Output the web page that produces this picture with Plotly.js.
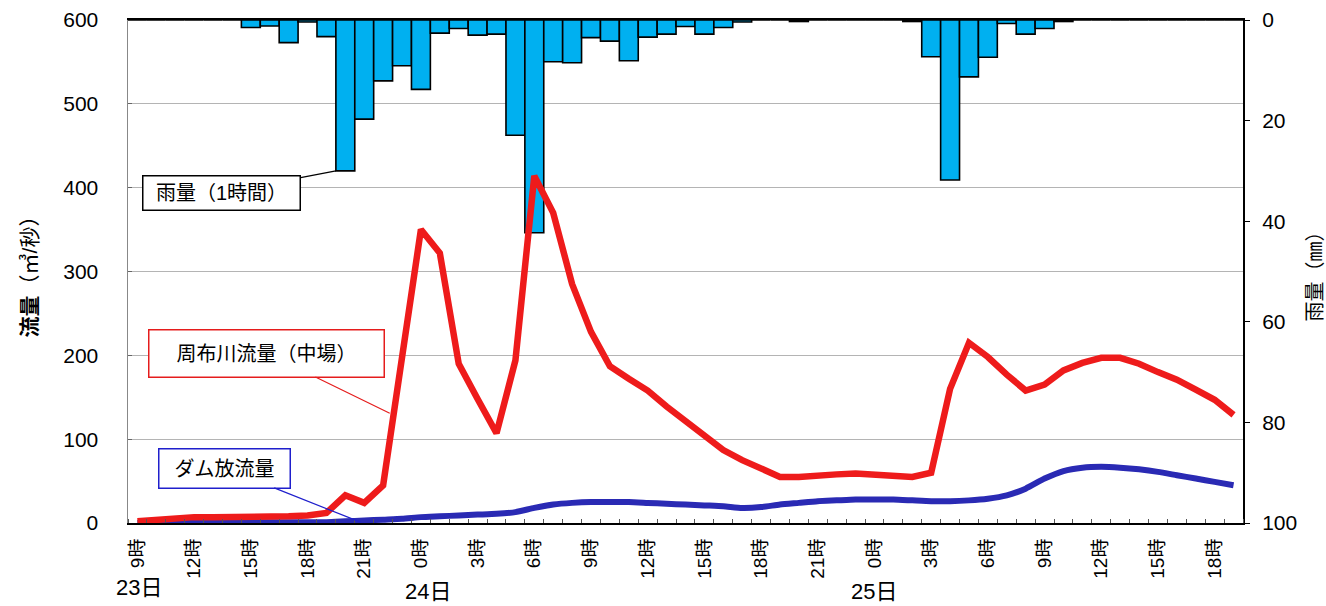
<!DOCTYPE html>
<html>
<head>
<meta charset="utf-8">
<script src="https://cdn.plot.ly/plotly-3.0.1.min.js"></script>
<style>html,body{margin:0;padding:0;background:#fff;}#chart{width:1326px;height:606px;}</style>
</head>
<body>
<div id="chart"></div>
<script>
// hourly series from 23日 9時 to 25日 19時 (59 hours)
const rainMm = [0,0,0,0,0,0,1.5,1.2,4.5,0.4,3.3,30,19.7,12.1,9.1,13.8,2.6,1.7,3.0,2.8,22.9,42.3,8.3,8.5,3.5,4.2,8.1,3.4,2.8,1.3,2.8,1.5,0.4,0,0,0.3,0,0,0,0,0,0.3,7.3,31.8,11.3,7.4,0.7,2.8,1.7,0.3,0,0,0,0,0,0,0,0,0];
const flowNakaba = [2,4,6,7,7,7,7,8,8,9,12,33,24,45,195,350,322,190,148,107,194,414,370,285,228,187,172,158,139,121,103,87,75,64,55,55,57,58,59,58,56,55,60,160,215,198,177,158,165,182,191,197,197,190,180,171,159,147,129];
const damRelease = [0,1,1,1,1,1,1,1,1,1,1,2,3,4,5,7,8,9,10,11,13,18,22,24,25,25,25,24,23,22,21,20,18,19,22,24,26,27,28,28,28,27,26,26,27,29,33,41,53,62,66,67,66,64,61,57,53,49,45];
const tickLabels = ["9時","12時","15時","18時","21時","0時","3時","6時","9時","12時","15時","18時","21時","0時","3時","6時","9時","12時","15時","18時"];
const dayLabels = ["23日","24日","25日"];

const idx = rainMm.map((_, i) => i);
const tickVals = tickLabels.map((_, i) => i * 3);
const FONT = "'Liberation Sans', Arial, 'Noto Sans CJK JP', sans-serif";

const traces = [
  {type:'bar', x: idx, y: rainMm, yaxis:'y', marker:{color:'#00b0f0', line:{color:'#000', width:1.6}}, hoverinfo:'skip'},
  {type:'scatter', mode:'lines', x: idx, y: damRelease, yaxis:'y2', line:{color:'#2a2ab4', width:6, shape:'spline', smoothing:0.6}, hoverinfo:'skip'},
  {type:'scatter', mode:'lines', x: idx, y: flowNakaba, yaxis:'y2', line:{color:'#ee1b1b', width:6.5}, hoverinfo:'skip'}
];

const dayPos = [0.1, 15.4, 39];
const dayY = [-0.128, -0.137, -0.137];
const annotations = dayLabels.map((t, i) => ({
  text: t, xref:'x', yref:'paper', x: dayPos[i], y: dayY[i], showarrow:false,
  font:{size:22, color:'#000', family:FONT}, xanchor:'center', yanchor:'middle'
}));
annotations.push(
  {text:'雨量（1時間）', xref:'x', yref:'y', x:10.5, y:30, ax:-114, ay:22, showarrow:true, arrowhead:0, arrowwidth:1.2, arrowcolor:'#000',
   bgcolor:'#fff', bordercolor:'#000', borderwidth:1.5, borderpad:3, width:150, height:27, align:'center', font:{size:20, color:'#000', family:FONT}},
  {text:'周布川流量（中場）', xref:'x', yref:'y2', x:13.35, y:131, ax:-123, ay:-60, showarrow:true, arrowhead:0, arrowwidth:1.2, arrowcolor:'#e51c1c',
   bgcolor:'#fff', bordercolor:'#e51c1c', borderwidth:1.5, borderpad:3, width:228, height:40, align:'center', font:{size:20, color:'#000', family:FONT}},
  {text:'ダム放流量', xref:'x', yref:'y2', x:11.8, y:1, ax:-136, ay:-54, showarrow:true, arrowhead:0, arrowwidth:1.2, arrowcolor:'#1f1fcc',
   bgcolor:'#fff', bordercolor:'#1f1fcc', borderwidth:1.5, borderpad:3, width:124, height:32, align:'center', font:{size:20, color:'#000', family:FONT}}
);

const layout = {
  width:1326, height:606,
  margin:{l:128, r:83, t:20, b:83, pad:0},
  paper_bgcolor:'#fff', plot_bgcolor:'#fff',
  showlegend:false, bargap:0,
  font:{family:FONT, color:'#000'},
  xaxis:{
    range:[-0.5, 58.5], tickmode:'array', tickvals: tickVals, ticktext: tickLabels,
    tickangle:-90, ticks:'', showgrid:false, zeroline:false,
    showline:true, linecolor:'#000', linewidth:2, mirror:true,
    tickfont:{size:19, family:FONT}, ticklabelstandoff:6,
    minor:{tickmode:'linear', tick0:-0.5, dtick:1, ticks:'inside', ticklen:4, tickcolor:'#555', showgrid:false}
  },
  yaxis:{
    side:'right', range:[100, 0], tickvals:[0,20,40,60,80,100], ticks:'outside', ticklen:5, tickcolor:'#000',
    showgrid:false, zeroline:false, showline:true, linecolor:'#000', linewidth:2,
    tickfont:{size:21, family:FONT}, ticklabelstandoff:8,
    title:{text:'雨量（㎜）', font:{size:20, family:FONT}, standoff:12}
  },
  yaxis2:{
    side:'left', overlaying:'y', range:[0, 600], dtick:100, ticks:'inside', ticklen:4, tickcolor:'#666',
    showgrid:true, gridcolor:'#b4b4b4', gridwidth:1.2, zeroline:false,
    showline:true, linecolor:'#888', linewidth:1.5,
    tickfont:{size:21, family:FONT}, ticklabelstandoff:24,
    title:{text:'<b>流量</b>（㎥/秒）', font:{size:21, family:FONT}, standoff:20}
  },
  annotations: annotations
};

Plotly.newPlot('chart', traces, layout, {staticPlot:true, displayModeBar:false});
</script>
</body>
</html>
